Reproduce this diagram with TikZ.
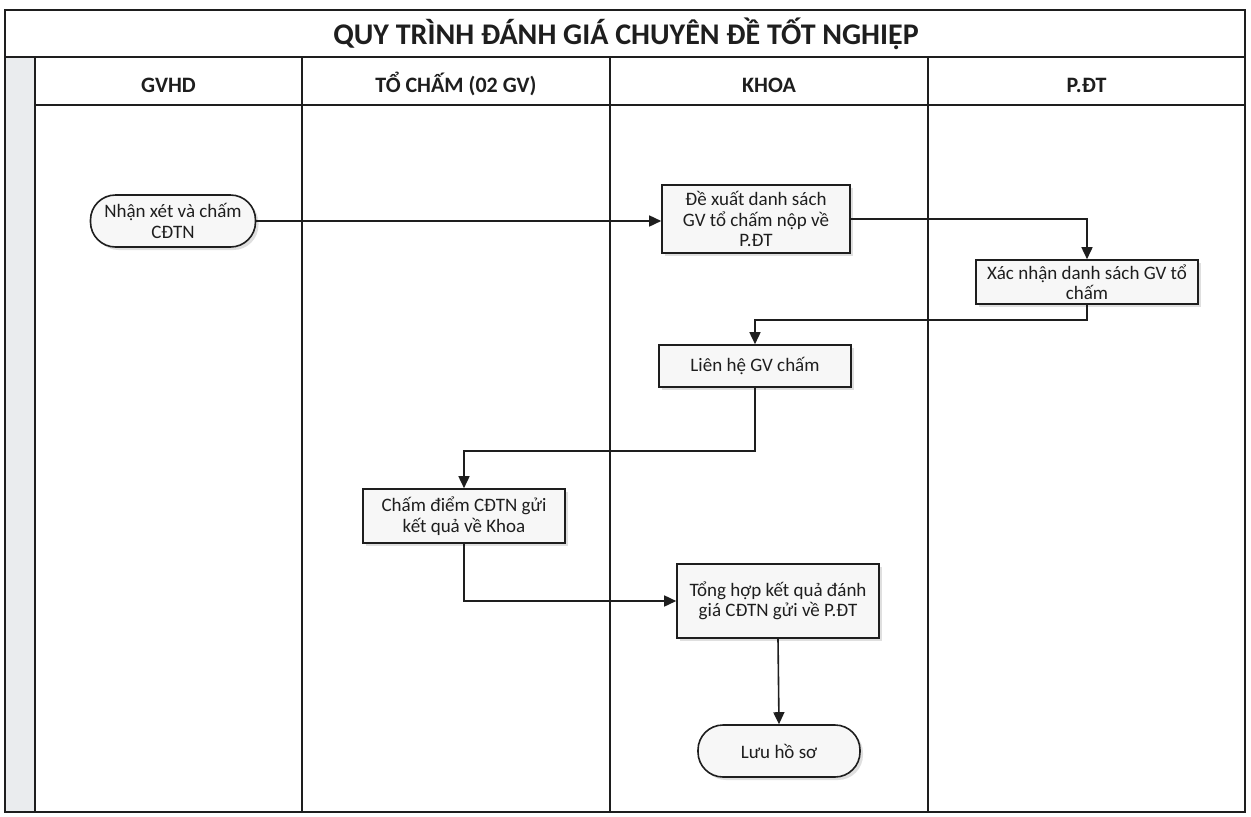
\documentclass[tikz,border=0pt]{standalone}
\usepackage{fontspec}
\setmainfont{Carlito}
\usepackage{tikz}
\usetikzlibrary{arrows.meta,positioning,shadows}
\definecolor{ink}{RGB}{30,30,30}
\definecolor{strip}{RGB}{234,236,238}
\definecolor{boxfill}{RGB}{247,247,247}

\begin{document}
\begin{tikzpicture}[x=1pt, y=-1pt,
  every node/.style={text=ink},
  hdr/.style={font=\bfseries\fontsize{22}{25}\selectfont, anchor=base},
  stepbox/.style={draw=ink, line width=1.6pt, fill=boxfill, align=center,
    inner sep=1pt, font=\fontsize{19}{20.5}\selectfont,
    drop shadow={opacity=0.25, shadow xshift=3pt, shadow yshift=-3pt}},
  endbox/.style={stepbox, rounded corners=25pt},
  flow/.style={draw=ink, line width=1.6pt, -{Triangle[length=12pt,width=11pt]}}
]
  \useasboundingbox (0,0) rectangle (1251,817);
  % frame, title row and header row
  \fill[strip] (5,57) rectangle (35,812);
  \draw[ink, line width=2pt] (5,10) rectangle (1245,812);
  \draw[ink, line width=1.8pt] (5,57) -- (1245,57);
  \draw[ink, line width=1.8pt] (35,105) -- (1245,105);
  \draw[ink, line width=1.6pt] (35,57) -- (35,812);
  \node[font=\bfseries\fontsize{30}{34}\selectfont, anchor=base] (title) at (626,44)
    {QUY TRÌNH ĐÁNH GIÁ CHUYÊN ĐỀ TỐT NGHIỆP};
  % swimlane dividers
  \foreach \x in {302,610,928} {
    \draw[ink, line width=1.6pt] (\x,57) -- (\x,812);
  }
  \foreach \x/\lbl in {168.5/GVHD, 456/{TỔ CHẤM (02 GV)}, 769/KHOA, 1086.5/P.ĐT} {
    \node[hdr] at (\x,92) {\lbl};
  }
  % lane GVHD
  \node[endbox, minimum width=165pt, minimum height=52pt] (nhanxet) at (173,221)
    {Nhận xét và chấm\\CĐTN};
  % lane KHOA
  \node[stepbox, minimum width=188pt, minimum height=68pt] (dexuat) at (756,219)
    {Đề xuất danh sách\\GV tổ chấm nộp về\\P.ĐT};
  \node[stepbox, minimum width=192pt, minimum height=42pt] (lienhe) at (755,366)
    {Liên hệ GV chấm};
  \node[stepbox, minimum width=202pt, minimum height=74pt] (tonghop) at (778,601)
    {Tổng hợp kết quả đánh\\giá CĐTN gửi về P.ĐT};
  \node[endbox, minimum width=162pt, minimum height=52pt] (luuhoso) at (779,751)
    {Lưu hồ sơ};
  % lane P.DT
  \node[stepbox, minimum width=222pt, minimum height=44pt, inner sep=2pt] (xacnhan) at (1087,282)
    {Xác nhận danh sách GV tổ\\chấm};
  % lane TO CHAM
  \node[stepbox, minimum width=202pt, minimum height=54pt] (chamdiem) at (464,516)
    {Chấm điểm CĐTN gửi\\kết quả về Khoa};
  % connectors
  \draw[flow] (nhanxet.east) -- (nhanxet.east -| dexuat.west);
  \draw[flow] (dexuat.east) -| (xacnhan.north);
  \draw[flow] (xacnhan.south) -- ++(0,15) -| (lienhe.north);
  \draw[flow] (lienhe.south) -- ++(0,63) -| (chamdiem.north);
  \draw[flow] (chamdiem.south) |- (tonghop.west);
  \draw[flow] (tonghop.south) -- (luuhoso.north);
\end{tikzpicture}
\end{document}
